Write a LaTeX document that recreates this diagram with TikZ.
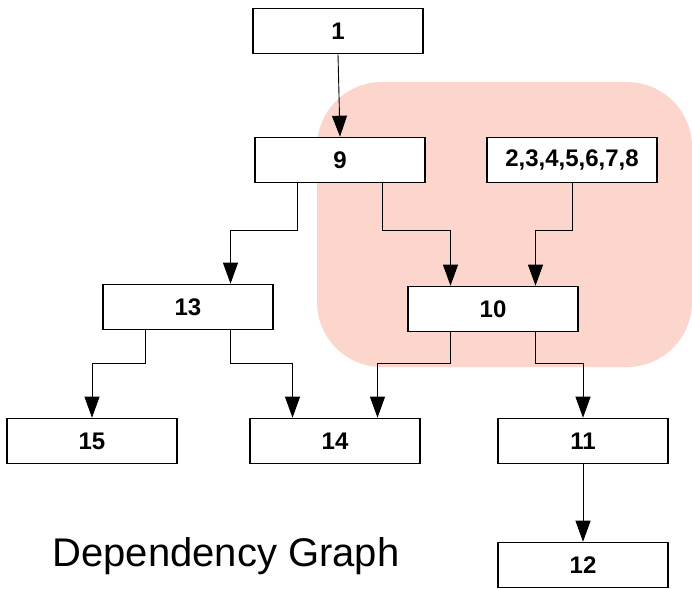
\documentclass[tikz,border=0pt]{standalone}
\usepackage{fontspec}
\setmainfont{Liberation Sans}
\usepackage{xcolor}
\usetikzlibrary{
  arrows.meta,
  positioning
}
\definecolor{zonepink}{RGB}{252,214,205}

\begin{document}
\begin{tikzpicture}[
    x=1pt, y=-1pt,
    every node/.style={font=\fontsize{24}{28}\selectfont\bfseries},
    box/.style={
      draw,
      line width=1.6pt,
      fill=white,
      align=center,
      inner sep=0pt,
      minimum width=170pt,
      minimum height=45pt
    },
    ar/.style={-{Triangle[width=15pt,length=21pt]}, line width=0.9pt},
    title/.style={font=\fontsize{40}{44}\selectfont, anchor=base}
  ]
    \useasboundingbox (0,0) rectangle (692,588);

    % shaded zone round 9, 2..8 and 10
    \fill[zonepink, rounded corners=65pt] (317,82) rectangle (692,367);

    % boxes, row by row
    \node[box] (n1) at (338,31) {1};
    \node[box] (n9) at (340,160) {9};
    \node[box] (n2to8) at (572,160) {2,3,4,5,6,7,8};
    \node[box] (n13) at (188,307) {13};
    \node[box] (n10) at (493,309) {10};
    \node[box] (n15) at (92,441) {15};
    \node[box] (n14) at (335,441) {14};
    \node[box] (n11) at (583,441) {11};
    \node[box] (n12) at (583,565) {12};

    \node[title] (caption) at (226,566) {Dependency Graph};

    % arrows
    \draw[ar] (n1.south) -- (n9.north);
    \draw[ar] ([xshift=-42.5]n9.south) -- ++(0,47) -| ([xshift=42.5]n13.north);
    \draw[ar] ([xshift=42.5]n9.south) -- ++(0,47) -| ([xshift=-42.5]n10.north);
    \draw[ar] (n2to8.south) -- ++(0,47) -| ([xshift=42.5]n10.north);
    \draw[ar] ([xshift=-42.5]n13.south) -- ++(0,33) -| (n15.north);
    \draw[ar] ([xshift=42.5]n13.south) -- ++(0,33) -| ([xshift=-42.5]n14.north);
    \draw[ar] ([xshift=-42.5]n10.south) -- ++(0,31) -| ([xshift=42.5]n14.north);
    \draw[ar] ([xshift=42.5]n10.south) -- ++(0,31) -| (n11.north);
    \draw[ar] (n11) -- (n12);

  \end{tikzpicture}
\end{document}
